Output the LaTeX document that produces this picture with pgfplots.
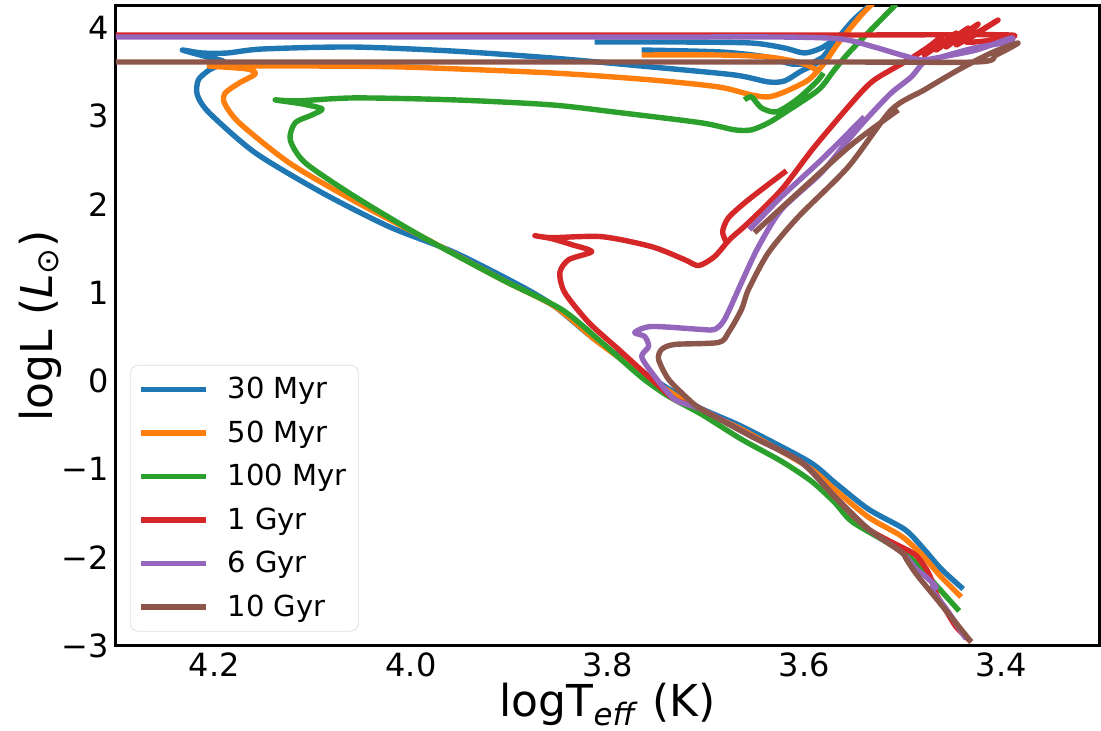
\documentclass[border=0pt]{standalone}
\usepackage{fontspec}
\setmainfont{DejaVu Sans}
\usepackage{pgfplots}
\pgfplotsset{compat=1.18}
\definecolor{c0}{HTML}{1F77B4}
\definecolor{c1}{HTML}{FF7F0E}
\definecolor{c2}{HTML}{2CA02C}
\definecolor{c3}{HTML}{D62728}
\definecolor{c4}{HTML}{9467BD}
\definecolor{c5}{HTML}{8C564B}
\begin{document}
\begin{tikzpicture}
\begin{axis}[
  scale only axis, width=492pt, height=320pt,
  x dir=reverse, xmin=3.3, xmax=4.3, ymin=-3, ymax=4.25,
  xtick={3.4,3.6,3.8,4.0,4.2}, xticklabels={3.4,3.6,3.8,4.0,4.2},
  ytick={-3,-2,-1,0,1,2,3,4}, yticklabels={−3,−2,−1,0,1,2,3,4},
  major tick length=0pt,
  axis line style={line width=1.5pt},
  tick label style={font=\fontsize{16}{19}\selectfont},
  xlabel={logT\textsubscript{\textit{eff}} (K)},
  ylabel={logL (\textit{L}\textsubscript{⊙})},
  label style={font=\fontsize{22}{26}\selectfont},
  xlabel style={at={(axis description cs:0.5,-0.092)}, anchor=center},
  ylabel style={at={(axis description cs:-0.077,0.5)}, anchor=center, rotate=0},
  unbounded coords=jump,
  every axis plot/.append style={line width=2.7pt, line join=round, smooth, tension=0.45},
  legend style={at={(axis description cs:0.0142,0.0219)}, anchor=south west,
    draw=black!12, rounded corners=4pt, fill=white, fill opacity=0.8, text opacity=1,
    font=\fontsize{14.5}{17}\selectfont, inner xsep=4pt, inner ysep=4pt,
    nodes={inner sep=2pt}, row sep=5.5pt, column sep=7.5pt},
  legend cell align=left,
  legend image code/.code={\draw[#1, sharp plot] (0pt,0pt) -- (32.5pt,0pt);},
]
% 30 Myr
\addplot[c0] coordinates {
(3.4386,-2.3573) (3.4609,-2.1311) (3.4812,-1.871) (3.4985,-1.6786) (3.535,-1.4524)
(3.5696,-1.147) (3.596,-0.9095) (3.664,-0.5134) (3.7076,-0.2986) (3.7452,-0.0384)
(3.7757,0.1878) (3.8132,0.4706) (3.8538,0.8439) (3.8873,1.0702) (3.9553,1.4548)
(4.0223,1.7489) (4.0904,2.1335) (4.1584,2.586) (4.2051,3.0385) (4.2173,3.2421)
(4.2162,3.4118) (4.2051,3.5249) (4.1898,3.6154) (4.2071,3.672) (4.2325,3.7511)
(4.2122,3.7172) (4.1868,3.7172) (4.1513,3.7624) (4.0599,3.7851) (3.9584,3.7398)
(3.8569,3.6606) (3.7554,3.5588) (3.6711,3.4683) (3.6366,3.3891) (3.6203,3.4004)
(3.6031,3.5136) (3.5858,3.6154) (3.5675,3.8643) (3.5503,4.0905) (3.532,4.2715)
(nan,nan)
(3.8132,3.8416) (3.7249,3.8416) (3.6538,3.8303) (3.6203,3.7738) (3.6,3.7172)
(3.5828,3.7738) (3.5675,3.8869)
(nan,nan)
(3.7655,3.7511) (3.6843,3.7285) (3.6386,3.672) (3.6132,3.5928) (3.5929,3.6041)
(3.5777,3.6946)
};
\addlegendentry{30 Myr}
% 50 Myr
\addplot[c1] coordinates {
(3.4406,-2.4478) (3.4609,-2.2216) (3.4812,-1.9614) (3.5015,-1.7578) (3.535,-1.5429)
(3.5696,-1.2261) (3.596,-0.9773) (3.664,-0.5474) (3.7076,-0.3211) (3.7452,-0.061)
(3.7858,0.2444) (3.8132,0.4706) (3.8538,0.8439) (3.9076,1.1494) (3.9888,1.6358)
(4.0599,2.0543) (4.1239,2.4729) (4.1746,2.9254) (4.1898,3.1516) (4.1888,3.2647)
(4.1746,3.3778) (4.1584,3.4796) (4.1665,3.5362) (4.2051,3.5701) (4.1716,3.5701)
(4.1107,3.5701) (4.0091,3.5588) (3.8569,3.491) (3.7554,3.4118) (3.6873,3.3326)
(3.6538,3.2421) (3.6366,3.2195) (3.6203,3.276) (3.596,3.4118) (3.5797,3.6041)
(3.5655,3.8303) (3.5422,4.1471) (3.5269,4.3167)
(nan,nan)
(3.7655,3.6946) (3.6873,3.6946) (3.6366,3.672) (3.6031,3.6041) (3.5878,3.5249)
};
\addlegendentry{50 Myr}
% 100 Myr
\addplot[c2] coordinates {
(3.4427,-2.6062) (3.4609,-2.3799) (3.4812,-2.1311) (3.4965,-1.9614) (3.5218,-1.7918)
(3.5523,-1.5882) (3.5696,-1.3732) (3.5929,-1.1357) (3.6234,-0.9095) (3.664,-0.6605)
(3.7046,-0.3777) (3.7381,-0.1741) (3.7655,0.0408) (3.8061,0.4367) (3.8467,0.81)
(3.9076,1.1494) (3.9888,1.6358) (4.0569,2.0883) (4.1076,2.4729) (4.1228,2.7331)
(4.1178,2.9254) (4.1005,3.0158) (4.0904,3.0837) (4.1107,3.1403) (4.1381,3.1855)
(4.1157,3.1742) (4.0569,3.2082) (3.9553,3.1855) (3.8569,3.129) (3.7858,3.0385)
(3.7046,2.9254) (3.6711,2.8462) (3.6538,2.8462) (3.6366,2.9254) (3.6203,3.0385)
(3.5858,3.2987) (3.5696,3.5249) (3.5523,3.7511) (3.5066,4.2715)
(nan,nan)
(3.661,3.1855) (3.6538,3.2195) (3.6437,3.095) (3.6284,3.0498) (3.6081,3.1855)
(3.5878,3.3891) (3.5807,3.491)
};
\addlegendentry{100 Myr}
% 1 Gyr
\addplot[c3] coordinates {
(3.4305,-2.9569) (3.4457,-2.7872) (3.4558,-2.6062) (3.466,-2.4139) (3.4711,-2.2442)
(3.4761,-2.1311) (3.4833,-2.018) (3.4914,-1.9389) (3.535,-1.6786) (3.5696,-1.3053)
(3.6031,-0.9208) (3.6538,-0.6266) (3.7046,-0.3211) (3.732,-0.2081) (3.7554,0.0182)
(3.7889,0.3575) (3.8193,0.6629) (3.8437,1.0023) (3.8487,1.2286) (3.8396,1.3756)
(3.8163,1.4661) (3.8366,1.5453) (3.8569,1.6132) (3.8741,1.6471) (3.8569,1.6245)
(3.8061,1.6358) (3.7554,1.5227) (3.7218,1.3756) (3.7076,1.3078) (3.6914,1.4096)
(3.6762,1.6018) (3.6569,1.7942) (3.6234,2.1675) (3.5898,2.6539) (3.5493,3.1855)
(3.529,3.4118) (3.4944,3.638) (3.4741,3.7851) (3.4609,3.8982)
(3.4782,3.6946) (3.4457,3.9434) (3.466,3.7511) (3.4335,4.0) (3.4558,3.7851)
(3.4234,4.0452) (3.4457,3.8077) (3.4031,4.0905) (3.4355,3.8416) (3.39,3.9208)
(3.6,3.9208) (4.5,3.9208)
(nan,nan)
(3.6792,1.5679) (3.6832,1.6923) (3.6772,1.8507) (3.6569,2.0543) (3.6183,2.3824)
};
\addlegendentry{1 Gyr}
% 6 Gyr
\addplot[c4] coordinates {
(3.4355,-2.9231) (3.4558,-2.5836) (3.4711,-2.3573) (3.466,-2.3347) (3.4761,-2.2216)
(3.4863,-2.1311) (3.5015,-1.9389) (3.535,-1.6786) (3.5696,-1.3053) (3.6031,-0.9208)
(3.6538,-0.6266) (3.7046,-0.3211) (3.732,-0.2081) (3.7554,0.0973) (3.7655,0.2783)
(3.7584,0.3915) (3.7624,0.5046) (3.7726,0.5498) (3.7554,0.6177) (3.7046,0.5838)
(3.6914,0.5838) (3.6812,0.6969) (3.664,1.1154) (3.6467,1.5227) (3.6234,1.9412)
(3.5828,2.3598) (3.5554,2.7331) (3.535,2.9932) (3.5117,3.2647) (3.4914,3.4457)
(3.4782,3.6154) (3.4609,3.672) (3.4274,3.7738) (3.393,3.8416) (3.39,3.8869)
(3.4254,3.7511) (3.4609,3.672) (3.4812,3.638) (3.5015,3.6946) (3.529,3.7851)
(3.5625,3.8756) (3.6234,3.8982) (3.8,3.8982) (4.5,3.8982)
(nan,nan)
(3.6559,1.715) (3.6234,2.0883) (3.5828,2.5068) (3.5391,2.9932)
};
\addlegendentry{6 Gyr}
% 10 Gyr
\addplot[c5] coordinates {
(3.4305,-2.9569) (3.4508,-2.6741) (3.4681,-2.4365) (3.4863,-2.1877) (3.4965,-2.018)
(3.5015,-1.9389) (3.535,-1.6786) (3.5696,-1.3053) (3.6031,-0.9208) (3.6538,-0.6266)
(3.7046,-0.3211) (3.7178,-0.2081) (3.7381,0.0182) (3.7483,0.2444) (3.7452,0.3575)
(3.732,0.4141) (3.6873,0.4367) (3.6772,0.5498) (3.664,0.81) (3.6569,1.0363)
(3.6366,1.4548) (3.6061,1.862) (3.5554,2.4276) (3.5117,3.0724) (3.4782,3.2987)
(3.4437,3.5249) (3.4102,3.7172) (3.3828,3.8303) (3.4051,3.6946) (3.4254,3.6154)
(3.6,3.6154) (4.5,3.6154)
(nan,nan)
(3.6508,1.681) (3.6031,2.1675) (3.5523,2.6765) (3.5046,3.0724)
};
\addlegendentry{10 Gyr}
\end{axis}
\pgfresetboundingbox
\path[use as bounding box] ([xshift=-58pt,yshift=-42.5pt]current axis.south west) rectangle ([xshift=0.75pt,yshift=3pt]current axis.north east);
\end{tikzpicture}
\end{document}
